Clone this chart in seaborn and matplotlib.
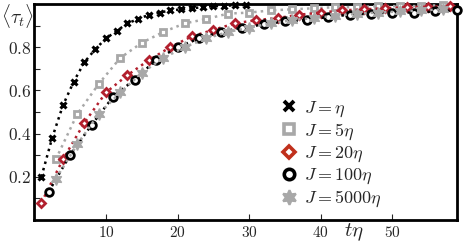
import seaborn as sns
import matplotlib.pyplot as plt
import pandas as pd
from matplotlib.lines import Line2D
from matplotlib.ticker import FixedLocator

# Данные
t_eta1 = [1, 2.5, 4, 5.5, 7, 8.5, 10, 11.5, 13, 14.5, 16, 17.5, 19, 20.5, 22, 23.5, 25, 26.5, 28, 29.5]
tau_eta1 = [0.20, 0.38, 0.53, 0.64, 0.73, 0.79, 0.84, 0.875, 0.91, 0.93, 0.95, 0.96, 0.97, 0.975,
            0.98, 0.985, 0.99, 0.99, 0.995, 0.995]

t_eta5 = [3, 6, 9, 12, 15, 18, 21, 24, 27, 30, 33, 36, 39, 42, 45, 48, 51, 54, 57]
tau_eta5 = [0.28, 0.49, 0.63, 0.75, 0.82, 0.87, 0.91, 0.93, 0.955, 0.96, 0.97, 0.975, 0.98,
            0.985, 0.985, 0.99, 0.99, 0.99, 0.995]

t_eta20 = [1, 4, 7, 10, 13, 16, 19, 22, 25, 28, 31, 34, 37, 40, 43, 46, 49, 52, 55, 58]
tau_eta20 = [0.08, 0.28, 0.45, 0.59, 0.67, 0.74, 0.80, 0.85, 0.88, 0.91, 0.925, 0.935, 0.95,
             0.96, 0.97, 0.975, 0.98, 0.985, 0.987, 0.99]

t_eta100 = [2, 5, 8, 11, 14, 17, 20, 23, 26, 29, 32, 35, 38, 41, 44, 47, 50, 53, 56, 59]
tau_eta100 = [0.13, 0.30, 0.44, 0.57, 0.65, 0.74, 0.80, 0.84, 0.87, 0.89, 0.905, 0.92, 0.925,
              0.94, 0.95, 0.955, 0.96, 0.96, 0.965, 0.97]

t_eta5000 = [3, 6, 9, 12, 15, 18, 21, 24, 27, 30, 33, 36, 39, 42, 45, 48, 51, 54, 57]
tau_eta5000 = [0.19, 0.35, 0.49, 0.59, 0.68, 0.75, 0.80, 0.84, 0.87, 0.89, 0.91, 0.925, 0.935,
               0.945, 0.955, 0.96, 0.965, 0.97, 0.975]

labels = [r'$J=\eta$', r'$J=5\eta$', r'$J=20\eta$', r'$J=100\eta$', r'$J=5000\eta$']
x_ticks = [10, 20, 30, 40, 50]
y_ticks = [0.2, 0.4, 0.6, 0.8]

sns.set_style('ticks')
plt.rcParams['mathtext.fontset'] = 'cm'
plt.rcParams['font.family'] = ['DejaVu Serif']

fig = plt.figure(figsize=(4.63, 2.46), dpi=100)
ax = fig.add_axes([0.074, 0.106, 0.913, 0.878])

red = '#b2202e'
grey = '#a8a8a8'
styles = [
    dict(marker='x', color='black', mfc='black', mec='black', ms=4.5, mew=2.2),
    dict(marker='s', color=grey, mfc='white', mec=grey, ms=4.8, mew=2),
    dict(marker='D', color=red, mfc='white', mec=red, ms=4.5, mew=2),
    dict(marker='o', color='black', mfc='white', mec='black', ms=5.5, mew=2),
    dict(marker=(6, 1, 0), color=grey, mfc=grey, mec=grey, ms=8.5, mew=1),
]
series = [(t_eta1, tau_eta1), (t_eta5, tau_eta5), (t_eta20, tau_eta20),
          (t_eta100, tau_eta100), (t_eta5000, tau_eta5000)]

# порядок отрисовки: звёзды снизу
order = [4, 1, 3, 2, 0]
for i in order:
    t, v = series[i]
    df = pd.DataFrame({'t': t, 'tau': v})
    st = styles[i]
    sns.lineplot(data=df, x='t', y='tau', ax=ax, color=st['color'], linestyle=':', linewidth=1.8,
                 marker=st['marker'], markersize=st['ms'], markerfacecolor=st['mfc'],
                 markeredgecolor=st['mec'], markeredgewidth=st['mew'], clip_on=False, zorder=3 + i)

ax.set_xlim(0, 59)
ax.set_ylim(0, 1.0)

ax.xaxis.set_major_locator(FixedLocator(x_ticks))
ax.set_xticklabels([f'${v}$' for v in x_ticks], fontsize=11)
ax.yaxis.set_major_locator(FixedLocator(y_ticks))
ax.set_yticklabels([f'${v}$' for v in y_ticks], fontsize=12.5)
ax.yaxis.set_minor_locator(FixedLocator([0.1, 0.3, 0.5, 0.7, 0.9]))
ax.tick_params(axis='both', which='both', direction='in', length=4, width=0.8, pad=4)
ax.tick_params(axis='y', pad=2)

for sp in ax.spines.values():
    sp.set_linewidth(2)
    sp.set_color('black')

ax.set_xlabel('')
ax.set_ylabel('')
fig.text(0.002, 0.935, r'$\langle \tau_t \rangle$', ha='left', va='center', fontsize=14)
fig.text(0.765, 0.055, r'$t\eta$', ha='center', va='center', fontsize=15)

handles = []
for st in styles:
    handles.append(Line2D([], [], linestyle='none', marker=st['marker'], markersize=st['ms'] + 2,
                          markerfacecolor=st['mfc'], markeredgecolor=st['mec'],
                          markeredgewidth=st['mew'] + 0.6))
handles[2].set_markeredgecolor('#c0301c')
leg = ax.legend(handles, labels, loc='lower left', bbox_to_anchor=(0.545, 0.0), frameon=False,
                fontsize=13, handletextpad=0.1, labelspacing=0.12, handlelength=1.5,
                borderaxespad=0.2)

plt.savefig('out.png', dpi=100)
